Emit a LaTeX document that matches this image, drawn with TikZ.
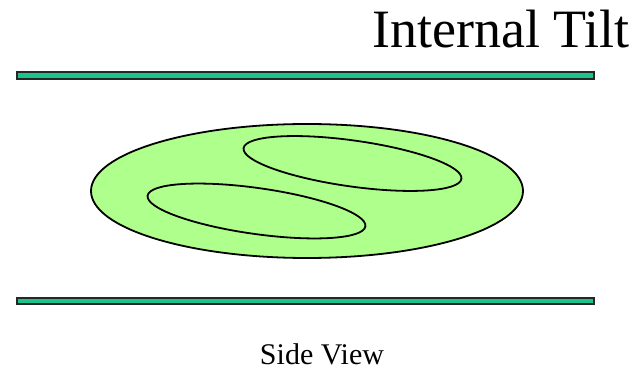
\documentclass[tikz,border=0pt]{standalone}
\usepackage{fontspec}
\setmainfont{Liberation Serif}
\usetikzlibrary{positioning}
\usetikzlibrary{calc}
\definecolor{barteal}{RGB}{26,196,140}
\definecolor{blobgreen}{RGB}{175,255,140}
\tikzset{
  plate/.style={draw=black!85, line width=2pt, fill=barteal},
  blob/.style={draw=black, line width=1.8pt}
}
\begin{document}
\begin{tikzpicture}[x=1pt, y=-1pt]
			\useasboundingbox (0,0) rectangle (635,371);
			% Plates
			\draw[plate] (17,72.5) rectangle (594,79);
			\draw[plate] (17,298) rectangle (594,304.5);
			% Cell and inner loops
			\draw[blob, fill=blobgreen] (307,191) ellipse [x radius=216, y radius=67];
			\draw[blob, rotate around={-8:(352.5,163.5)}] (352.5,163.5) ellipse [x radius=110, y radius=23];
			\draw[blob, rotate around={-8:(256.5,211)}] (256.5,211) ellipse [x radius=110, y radius=23];
			% Labels
			\node[anchor=base east, inner sep=0pt, font=\fontsize{54}{60}\selectfont] (title) at (630,48) {Internal Tilt};
			\node[anchor=base, inner sep=0pt, font=\fontsize{30}{36}\selectfont] (view) at (322,365) {Side View};
		\end{tikzpicture}
\end{document}
